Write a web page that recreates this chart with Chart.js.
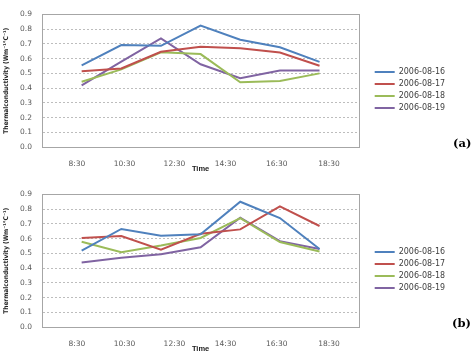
<!DOCTYPE html>
<html><head><meta charset="utf-8">
<script src="https://cdn.jsdelivr.net/npm/chart.js@4.4.1/dist/chart.umd.min.js"></script>
<style>
html,body{margin:0;padding:0;background:#fff;overflow:hidden;width:472px;height:351px;}
canvas{position:absolute;left:0;}
#ca{top:0}
#cb{top:180px}
.tag{position:absolute;font:bold 11.5px 'DejaVu Serif',serif;line-height:1;color:#000;}
</style></head><body>
<canvas id="ca" width="472" height="180"></canvas>
<canvas id="cb" width="472" height="180"></canvas>
<div class="tag" style="left:453px;top:138px">(a)</div>
<div class="tag" style="left:452px;top:318px">(b)</div>
<script>
// Tick labels of the time axis and where they sit on the sample-slot axis
const timeLabels = ['8:30', '10:30', '12:30', '14:30', '16:30', '18:30'];
const timeTickPos = [-0.12, 1.08, 2.34, 3.63, 4.92, 6.24];
// Sample slots (7 measurements per day)
const sampleSlots = [0, 1, 2, 3, 4, 5, 6];
const seriesNames = ['2006-08-16', '2006-08-17', '2006-08-18', '2006-08-19'];
const seriesColors = ['#4F81BD', '#C0504D', '#9BBB59', '#8064A2'];

// Chart (a)
const a0816 = [0.555, 0.692, 0.687, 0.825, 0.729, 0.677, 0.578];
const a0817 = [0.514, 0.533, 0.647, 0.681, 0.671, 0.642, 0.552];
const a0818 = [0.443, 0.527, 0.643, 0.631, 0.440, 0.449, 0.500];
const a0819 = [0.418, 0.580, 0.737, 0.562, 0.467, 0.520, 0.520];
// Chart (b)
const b0816 = [0.519, 0.666, 0.620, 0.630, 0.851, 0.740, 0.530];
const b0817 = [0.604, 0.618, 0.525, 0.633, 0.663, 0.819, 0.686];
const b0818 = [0.579, 0.508, 0.553, 0.605, 0.740, 0.577, 0.513];
const b0819 = [0.438, 0.471, 0.494, 0.541, 0.742, 0.583, 0.530];

const axisColor = '#A6A6A6';
const gridColor = '#BDBDBD';
const tickColor = '#5A5A5A';

function makeChart(id, values) {
  const cfg = {
    type: 'line',
    data: {
      datasets: values.map((vals, i) => ({
        label: seriesNames[i],
        data: vals.map((v, j) => ({ x: sampleSlots[j], y: v })),
        borderColor: seriesColors[i],
        backgroundColor: seriesColors[i],
        borderWidth: 2,
        pointRadius: 0,
        tension: 0,
        fill: false
      }))
    },
    options: {
      responsive: false,
      animation: false,
      devicePixelRatio: 1,
      layout: { padding: { left: 0, right: 20, top: 0, bottom: 0 } },
      plugins: {
        legend: {
          position: 'right',
          align: 'center',
          labels: {
            usePointStyle: true,
            pointStyle: 'line',
            pointStyleWidth: 20,
            boxHeight: 8,
            padding: 4,
            color: '#404040',
            font: { family: 'DejaVu Sans', size: 8 }
          }
        },
        tooltip: { enabled: false }
      },
      scales: {
        x: {
          type: 'linear', position: 'bottom', min: -1, max: 7,
          afterBuildTicks: s => { s.ticks = timeTickPos.map(v => ({ value: v })); },
          afterFit: s => { s.height = 33; },
          grid: { display: false },
          border: { display: true, color: axisColor, width: 1 },
          ticks: {
            autoSkip: false, maxRotation: 0, padding: 5, color: tickColor,
            font: { family: 'DejaVu Sans', size: 7.5 },
            callback: (v, i) => timeLabels[i]
          },
          title: {
            display: true, text: 'Time', color: '#222',
            font: { family: 'Liberation Sans', size: 7.5, weight: 'bold' },
            padding: { top: 0, bottom: 7 }
          }
        },
        xTop: {
          type: 'linear', position: 'top', min: -1, max: 7,
          afterFit: s => { s.height = 7; },
          grid: { display: false },
          border: { display: true, color: axisColor, width: 1 },
          ticks: { display: false }
        },
        y: {
          type: 'linear', position: 'left', min: 0, max: 0.9,
          afterFit: s => { s.width = 42; },
          grid: { drawTicks: false, color: gridColor, lineWidth: 1 },
          border: { display: true, color: axisColor, width: 1, dash: [2, 2] },
          ticks: {
            stepSize: 0.1, padding: 10, color: tickColor,
            font: { family: 'DejaVu Sans', size: 7.5 },
            callback: v => v.toFixed(1)
          },
          title: {
            display: true, text: 'Thermalconductivity (Wm⁻¹℃⁻¹)', color: '#222',
            font: { family: "'Liberation Sans Narrow', 'DejaVu Sans Condensed', sans-serif", size: 6.5, weight: 'bold' },
            padding: { top: 2, bottom: 0 }
          }
        },
        yR: {
          type: 'linear', position: 'right', min: 0, max: 0.9,
          afterFit: s => { s.width = 11.5; },
          grid: { display: false },
          border: { display: true, color: axisColor, width: 1 },
          ticks: { display: false }
        }
      }
    }
  };
  const ch = new Chart(document.getElementById(id), cfg);
  const padR = 472 - 358 - 11.5 - ch.legend.width;
  ch.options.layout.padding.right = Math.max(0, padR);
  ch.update('none');
  return ch;
}

makeChart('ca', [a0816, a0817, a0818, a0819]);
makeChart('cb', [b0816, b0817, b0818, b0819]);
</script>
</body></html>
